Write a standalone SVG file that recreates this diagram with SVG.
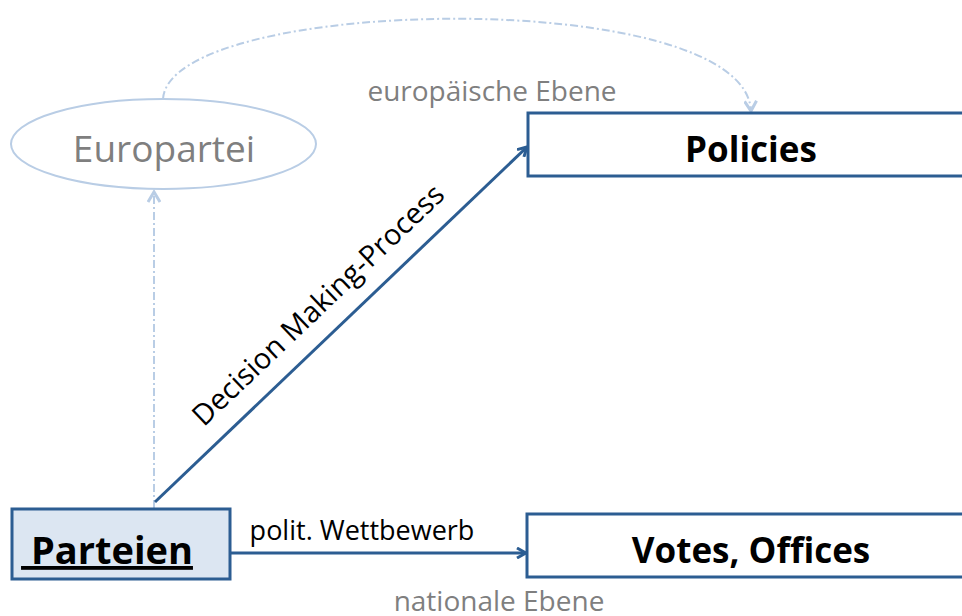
<svg xmlns="http://www.w3.org/2000/svg" width="962" height="616" viewBox="0 0 962 616">
<style>
.box{stroke:#2c5d92;stroke-width:3;}
.lbl{font-family:"Open Sans","Liberation Sans",sans-serif;}
.gray{fill:#7f7f7f;}
.dark{stroke:#2c5d92;stroke-width:3;fill:none;}
.light{stroke:#b9cde5;stroke-width:2;fill:none;stroke-dasharray:8 3 2 3;}
</style>
<defs>
<marker id="ad" markerWidth="12" markerHeight="12" refX="10" refY="6" orient="auto" markerUnits="userSpaceOnUse">
<path d="M1,1 L10,6 L1,11" fill="none" stroke="#2c5d92" stroke-width="3"/>
</marker>
<marker id="al" markerWidth="14" markerHeight="14" refX="11" refY="7" orient="auto" markerUnits="userSpaceOnUse">
<path d="M1,1 L11,7 L1,13" fill="none" stroke="#b9cde5" stroke-width="3"/>
</marker>
</defs>
<rect width="962" height="616" fill="#ffffff"/>
<g id="connectors">
<path class="light" d="M154,508 L154,192" marker-end="url(#al)"/>
<path class="light" d="M163,99 C170,-5 745,-15 751,111" marker-end="url(#al)"/>
<path class="dark" d="M155,502 L527,147" marker-end="url(#ad)"/>
<path class="dark" d="M231,553 L526,553" marker-end="url(#ad)"/>
<text class="lbl" x="325" y="312" font-size="29" text-anchor="middle" transform="rotate(-43.6 325 312)">Decision Making-Process</text>
<text class="lbl" x="362" y="540" font-size="27" text-anchor="middle">polit. Wettbewerb</text>
<text class="lbl gray" x="492" y="101" font-size="28" text-anchor="middle">europäische Ebene</text>
<text class="lbl gray" x="499" y="611" font-size="28" text-anchor="middle">nationale Ebene</text>
</g>
<g id="europartei">
<ellipse cx="163.5" cy="144" rx="152.5" ry="45" fill="#ffffff" stroke="#b9cde5" stroke-width="2"/>
<text class="lbl gray" x="164" y="162" font-size="37" text-anchor="middle">Europartei</text>
</g>
<g id="policies">
<rect class="box" x="528" y="113" width="440" height="63" fill="#ffffff"/>
<text class="lbl" x="751" y="162" font-size="35" font-weight="bold" text-anchor="middle">Policies</text>
</g>
<g id="votes">
<rect class="box" x="527" y="514" width="440" height="63" fill="#ffffff"/>
<text class="lbl" x="751" y="563" font-size="35" font-weight="bold" text-anchor="middle">Votes, Offices</text>
</g>
<g id="parteien">
<rect class="box" x="12" y="509" width="218" height="70" fill="#dce6f2"/>
<text class="lbl" x="107" y="564" font-size="38" font-weight="bold" text-anchor="middle" text-decoration="underline" xml:space="preserve"> Parteien</text>
</g>
</svg>
